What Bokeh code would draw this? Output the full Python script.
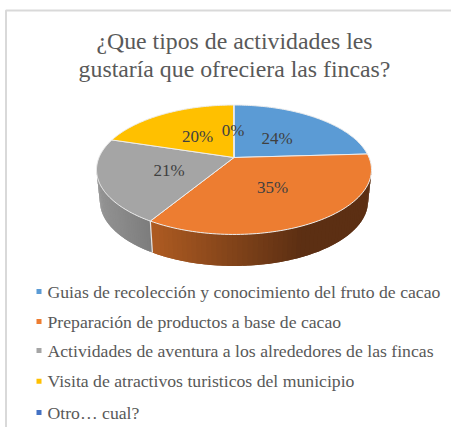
import numpy as np
from bokeh.plotting import figure
from bokeh.models import Range1d
from bokeh.embed import file_html
from bokeh.resources import INLINE
from bokeh.core.properties import value

title_lines = ["¿Que tipos de actividades les", "gustaría que ofreciera las fincas?"]
categories = ["Guias de recolección y conocimiento del fruto de cacao",
              "Preparación de productos a base de cacao",
              "Actividades de aventura a los alrededores de las fincas",
              "Visita de atractivos turisticos del municipio",
              "Otro… cual?"]
shares = [24.1, 34.6, 21.1, 20.15, 0.05]
labels = ["24%", "35%", "21%", "20%", "0%"]
colors = ["#5B9BD5", "#ED7D31", "#A5A5A5", "#FFC000", "#4472C4"]
wall_left = ["#3A6A96", "#AD5B22", "#949494", "#B08500", "#2F5597"]
wall_right = ["#2C5278", "#5C2F13", "#7C7C7C", "#7F6000", "#203864"]

FONT = value("Liberation Serif")
W, H = 451, 427
p = figure(width=W, height=H, output_backend="svg", toolbar_location=None,
           x_range=Range1d(0, W), y_range=Range1d(H, 0), min_border=0,
           outline_line_color=None)
p.axis.visible = False
p.grid.visible = False

# frame
p.line([5.5, 5.5, W], [H, 10, 10], line_color="#D9D9D9", line_width=2)

# tilted-disc projection
CX, CY, R, B, A, DEPTH, SHRINK = 233.5, 157, 135, 0.189, 62.4, 31.5, 0.975

def proj(theta):
    u, v = np.sin(theta), np.cos(theta)
    d = 1 + B * v
    return CX + R * u / d, CY - A * v / d

total = sum(shares)
edges = np.concatenate([[0], np.cumsum(shares)]) / total * 2 * np.pi
edges[-1] = 2 * np.pi

def lerp(c0, c1, f):
    a = np.array([int(c0[k:k + 2], 16) for k in (1, 3, 5)])
    b = np.array([int(c1[k:k + 2], 16) for k in (1, 3, 5)])
    return "#%02x%02x%02x" % tuple(int(x) for x in a + (b - a) * f)

# side wall (front part of the disc only); strips overlap to avoid seams
for i, (g0, g1) in {1: (151, 300), 2: (96, 151)}.items():
    t = np.linspace(edges[i], edges[i + 1], 70)
    t = t[np.cos(t) < -B]
    if i == 1:
        t = np.r_[np.arccos(-B), t]
    else:
        t = np.r_[t, 2 * np.pi - np.arccos(-B)]
    for k in range(len(t) - 1):
        a, b = t[k], t[min(k + 2, len(t) - 1)]
        ts = np.linspace(a, b, 4)
        xs, ys = proj(ts)
        xb = CX + (xs - CX) * SHRINK
        f = float(np.clip((xs.mean() - g0) / (g1 - g0), 0, 1))
        col = lerp(wall_left[i], wall_right[i], f)
        p.patch(np.r_[xs, xb[::-1]], np.r_[ys, (ys + DEPTH)[::-1]], fill_color=col, line_color=None)

# wall separator at the orange / gray joint
xe, ye = proj(edges[2])
p.line([xe, CX + (xe - CX) * SHRINK], [ye, ye + DEPTH], line_color="#E6E6E6", line_width=1.2)

# top face
for i in range(len(shares)):
    t = np.linspace(edges[i], edges[i + 1], 90)
    xs, ys = proj(t)
    p.patch(np.r_[CX, xs], np.r_[CY, ys], fill_color=colors[i],
            line_color="#EDEDED", line_width=1)

label_x = [276.7, 272, 168.7, 197, 232.7]
label_y = [137.7, 186.7, 170, 136, 130]
p.text(label_x, label_y, text=labels, text_font=FONT, text_font_size="17px",
       text_color="#404040", text_align="center", text_baseline="middle")

# title
p.text([234, 234], [40, 68], text=title_lines, text_font=FONT, text_font_size="23.8px",
       text_color="#595959", text_align="center", text_baseline="middle")

# legend
legend_y = [291, 321, 350, 380.7, 412]
p.scatter([38.5] * 5, legend_y, marker="square", size=5, color=colors, line_color=None)
p.text([47] * 5, legend_y, text=categories, text_font=FONT, text_font_size="17.7px",
       text_color="#595959", text_align="left", text_baseline="middle")

open("out.html", "w").write(file_html(p, INLINE))
